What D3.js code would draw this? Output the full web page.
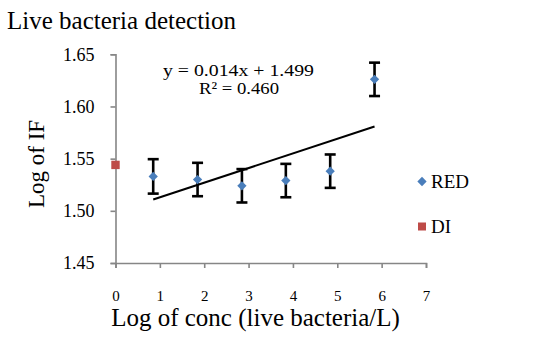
<!DOCTYPE html>
<html>
<head>
<meta charset="utf-8">
<script src="https://cdn.jsdelivr.net/npm/d3@7"></script>
<style>
  body { margin: 0; background: #fff; }
  text { font-family: "Liberation Serif", "Times New Roman", serif; fill: #000; }
</style>
</head>
<body>
<svg id="chart"></svg>
<script>
// values
const concLog = [0.85, 1.85, 2.85, 3.84, 4.84, 5.84];
const redIF = [1.533, 1.530, 1.524, 1.529, 1.538, 1.626];
const redErr = [0.0165, 0.016, 0.016, 0.016, 0.016, 0.016];
const diX = [0];
const diIF = [1.544];
const trendSlope = 0.014;
const trendIntercept = 1.499;
const trendR2 = 0.460;
const xTicks = [0, 1, 2, 3, 4, 5, 6, 7];
const yTicks = [1.45, 1.50, 1.55, 1.60, 1.65];
const legendNames = ['RED', 'DI'];

const width = 540, height = 353;
const blueCol = '#4a7ebb', redCol = '#be4b48', axisGrey = '#868686';

const svg = d3.select('#chart')
  .attr('width', width)
  .attr('height', height)
  .attr('viewBox', [0, 0, width, height]);

const x = d3.scaleLinear().domain([0, 7]).range([115.5, 426]);
const y = d3.scaleLinear().domain([1.45, 1.65]).range([263, 54.3]);

// title
svg.append('text').attr('x', 7).attr('y', 29).style('font-size', '25px')
  .text('Live bacteria detection');

// axes
const yAxis = svg.append('g')
  .attr('transform', `translate(${x(0)},0)`)
  .call(d3.axisLeft(y).tickValues(yTicks).tickSize(5).tickPadding(16).tickFormat(d3.format('.2f')));
const xAxis = svg.append('g')
  .attr('transform', `translate(0,${y(1.45)})`)
  .call(d3.axisBottom(x).tickValues(xTicks).tickSize(5).tickPadding(22).tickFormat(d3.format('d')));

[yAxis, xAxis].forEach(g => {
  g.attr('font-family', null).attr('font-size', null);
  g.select('.domain').attr('stroke', axisGrey).attr('stroke-width', 1.6);
  g.selectAll('.tick line').attr('stroke', axisGrey).attr('stroke-width', 1.6);
  g.selectAll('.tick text').attr('fill', '#000').style('font-family', 'Liberation Serif');
});
yAxis.selectAll('.tick text').style('font-size', '18px');
xAxis.selectAll('.tick text').style('font-size', '15px');

// axis titles
svg.append('text').attr('x', 255.5).attr('y', 326).attr('text-anchor', 'middle')
  .style('font-size', '25px').text('Log of conc (live bacteria/L)');
svg.append('text').attr('transform', 'translate(43.5,164) rotate(-90)')
  .attr('text-anchor', 'middle').style('font-size', '23px').text('Log of IF');

// trendline
const xFirst = d3.min(concLog), xLast = d3.max(concLog);
svg.append('line')
  .attr('x1', x(xFirst)).attr('y1', y(trendSlope * xFirst + trendIntercept))
  .attr('x2', x(xLast)).attr('y2', y(trendSlope * xLast + trendIntercept))
  .attr('stroke', '#000').attr('stroke-width', 2);

// equation label is wide and short in the original, so stretch it
svg.append('text').attr('x', 163).attr('y', 75.5)
  .attr('textLength', 151).attr('lengthAdjust', 'spacingAndGlyphs')
  .style('font-size', '17px')
  .text(`y = ${trendSlope.toFixed(3)}x + ${trendIntercept.toFixed(3)}`);
svg.append('text').attr('x', 199).attr('y', 94)
  .attr('textLength', 80).attr('lengthAdjust', 'spacingAndGlyphs')
  .style('font-size', '17px')
  .text(`R² = ${trendR2.toFixed(3)}`);

// error bars
const redPts = concLog.map((c, i) => ({ x: c, y: redIF[i], e: redErr[i] }));
const bars = svg.append('g').attr('stroke', '#000').attr('stroke-width', 2.6);
redPts.forEach(d => {
  bars.append('line').attr('x1', x(d.x)).attr('x2', x(d.x))
    .attr('y1', y(d.y - d.e)).attr('y2', y(d.y + d.e));
  [d.y - d.e, d.y + d.e].forEach(v => {
    bars.append('line').attr('x1', x(d.x) - 5.5).attr('x2', x(d.x) + 5.5)
      .attr('y1', y(v)).attr('y2', y(v));
  });
});

// points
const diamond = d3.symbol().type(d3.symbolDiamond2).size(55);
svg.append('g').selectAll('path')
  .data(redPts)
  .join('path')
  .attr('transform', d => `translate(${x(d.x)},${y(d.y)})`)
  .attr('d', diamond)
  .attr('fill', blueCol);

svg.append('g').selectAll('rect')
  .data(diX.map((c, i) => ({ x: c, y: diIF[i] })))
  .join('rect')
  .attr('x', d => x(d.x) - 4.2).attr('y', d => y(d.y) - 4.2)
  .attr('width', 8.4).attr('height', 8.4)
  .attr('fill', redCol);

// legend
const legend = svg.append('g');
legendNames.forEach((name, i) => {
  const ly = 181.5 + i * 45;
  if (i === 0) {
    legend.append('path').attr('transform', `translate(422,${ly})`).attr('d', diamond).attr('fill', blueCol);
  } else {
    legend.append('rect').attr('x', 418).attr('y', ly - 4).attr('width', 8).attr('height', 8).attr('fill', redCol);
  }
  legend.append('text').attr('x', 431).attr('y', ly + 6).style('font-size', '19px').text(name);
});
</script>
</body>
</html>
